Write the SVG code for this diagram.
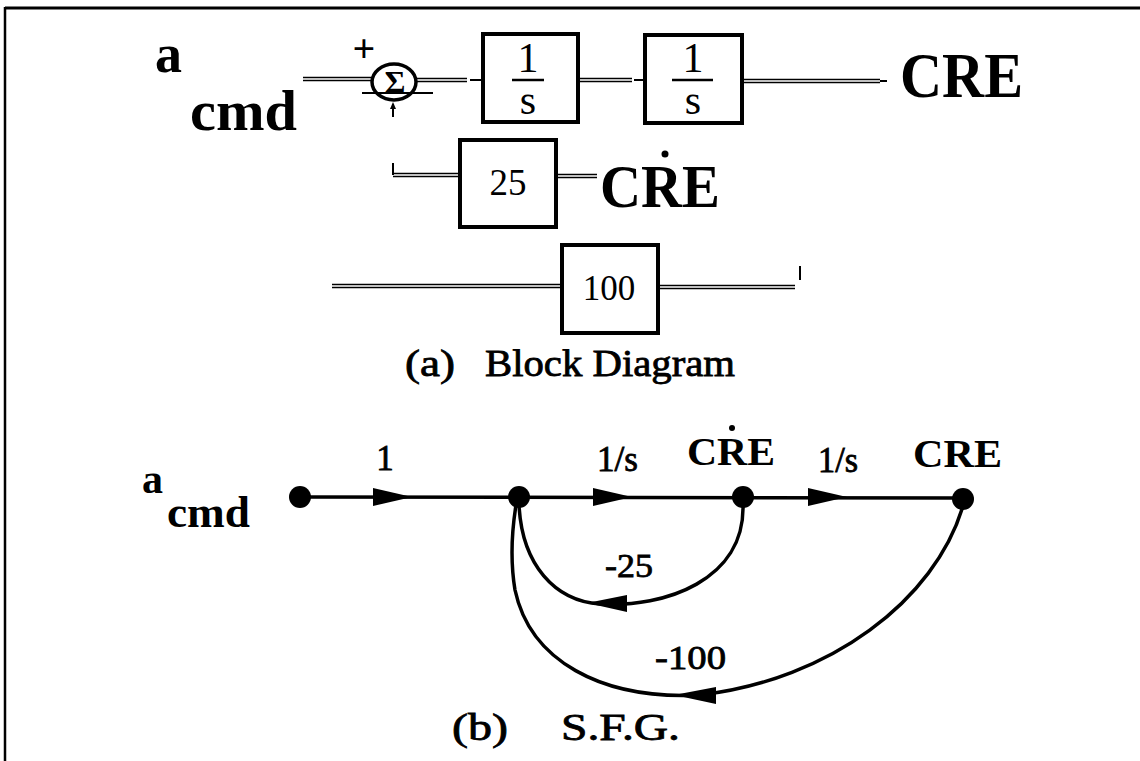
<svg xmlns="http://www.w3.org/2000/svg" width="1140" height="761" viewBox="0 0 1140 761">
<style>
text{font-family:"Liberation Serif","Times New Roman",serif;fill:#000}
.b{font-weight:bold}
.cap{stroke:#000;stroke-width:0.8}
.dbl{stroke:#000;stroke-width:4.5;fill:none}
.dbi{stroke:#fff;stroke-width:1.5;fill:none}
.thin{stroke:#000;stroke-width:2;fill:none}
.box{fill:#fff;stroke:#000;stroke-width:4}
.edge{stroke:#000;stroke-width:3.5;fill:none}
.node{fill:#000}
</style>
<rect width="1140" height="761" fill="#fff"/>
<g id="frame">
<line x1="5" y1="8" x2="1140" y2="8" stroke="#000" stroke-width="3"/>
<line x1="5" y1="7" x2="5" y2="761" stroke="#000" stroke-width="2.5"/>
</g>
<g id="connectors-block">
<path class="dbl" d="M303 79H372M416 80H467M580 80H632M744 81H880M393 175H460M556 176H597M332 286H562M658 287H795"/>
<path class="dbi" d="M303 79H372M416 80H467M580 80H632M744 81H880M393 175H460M556 176H597M332 286H562M658 287H795"/>
<path class="thin" d="M470 80H484M634 80H646M880 81H887M393 163V175M800 266V280"/>
<path class="thin" d="M393 104V117"/>
<path d="M393 102l-3 7h6z" fill="#000"/>
</g>
<g id="acmd-top"><text class="b" x="155" y="72" font-size="54">a</text><text class="b" x="190" y="130" font-size="58" textLength="107" lengthAdjust="spacingAndGlyphs">cmd</text></g>
<g id="sum">
<text class="b" x="364" y="62" font-size="40" text-anchor="middle">+</text>
<ellipse cx="394" cy="82" rx="22" ry="18" fill="#fff" stroke="#000" stroke-width="3.5"/>
<text class="b" x="395" y="93" font-size="32" text-anchor="middle">Σ</text>
<path class="thin" d="M362 93H433" stroke-width="2.5"/>
</g>
<g id="int1"><rect class="box" x="483" y="34" width="95" height="88"/><text x="528" y="72" font-size="42" text-anchor="middle">1</text><line x1="512" y1="80" x2="544" y2="80" stroke="#000" stroke-width="2.5"/><text x="528" y="114" font-size="42" text-anchor="middle">s</text></g>
<g id="int2"><rect class="box" x="645" y="35" width="97" height="88"/><text x="693" y="72" font-size="42" text-anchor="middle">1</text><line x1="672" y1="80" x2="713" y2="80" stroke="#000" stroke-width="2.5"/><text x="693" y="114" font-size="42" text-anchor="middle">s</text></g>
<g id="cre-top"><text class="b" x="900" y="97" font-size="64" textLength="123" lengthAdjust="spacingAndGlyphs">CRE</text></g>
<g id="gain25"><rect class="box" x="460" y="140" width="96" height="87"/><text x="508" y="195" font-size="37" text-anchor="middle">25</text></g>
<g id="credot-top"><text class="b" x="600" y="207" font-size="62" textLength="120" lengthAdjust="spacingAndGlyphs">CRE</text><circle cx="665" cy="154" r="3.5"/></g>
<g id="gain100"><rect class="box" x="562" y="245" width="96" height="88"/><text x="609" y="300" font-size="35" text-anchor="middle">100</text></g>
<g id="caption-a"><text class="cap" x="405" y="376" font-size="38" textLength="50" lengthAdjust="spacingAndGlyphs">(a)</text><text class="cap" x="485" y="376" font-size="38" textLength="250" lengthAdjust="spacingAndGlyphs">Block Diagram</text></g>
<g id="sfg-edges">
<line class="edge" x1="300" y1="497" x2="963" y2="498"/>
<path class="edge" d="M743 505C745 580 665 608 600 604C555 601 522 565 519 505"/>
<path class="edge" d="M963 506C935 600 830 680 700 695C600 700 530 660 515 590C510 560 512 530 516 505"/>
<path class="node" d="M373 488L412 497L373 506Z"/>
<path class="node" d="M593 488L632 497L593 506Z"/>
<path class="node" d="M808 488L847 497L808 506Z"/>
<path class="node" d="M587 603L627 595L627 612Z"/>
<path class="node" d="M674 695L716 687L716 704Z"/>
</g>
<g id="sfg-n1"><circle class="node" cx="300" cy="497" r="11"/><text class="b" x="142" y="493" font-size="42">a</text><text class="b" x="167" y="527" font-size="45" textLength="83" lengthAdjust="spacingAndGlyphs">cmd</text></g>
<g id="sfg-n2"><circle class="node" cx="519" cy="497" r="11"/></g>
<g id="sfg-n3"><circle class="node" cx="743" cy="497" r="11"/><text class="b" x="687" y="465" font-size="40" textLength="88" lengthAdjust="spacingAndGlyphs">CRE</text><circle cx="732" cy="428" r="3"/></g>
<g id="sfg-n4"><circle class="node" cx="963" cy="499" r="11"/><text class="b" x="913" y="467" font-size="40" textLength="89" lengthAdjust="spacingAndGlyphs">CRE</text></g>
<g id="sfg-labels">
<text class="cap" x="385" y="470" font-size="35" text-anchor="middle" stroke-width="0.5">1</text>
<text class="cap" x="597" y="471" font-size="35" textLength="41" lengthAdjust="spacingAndGlyphs" stroke-width="0.5">1/s</text>
<text class="cap" x="818" y="472" font-size="35" textLength="40" lengthAdjust="spacingAndGlyphs" stroke-width="0.5">1/s</text>
<text class="cap" x="605" y="577" font-size="34" textLength="48" lengthAdjust="spacingAndGlyphs" stroke-width="0.5">-25</text>
<text class="cap" x="655" y="669" font-size="34" textLength="71" lengthAdjust="spacingAndGlyphs" stroke-width="0.5">-100</text>
</g>
<g id="caption-b"><text class="cap" x="452" y="740" font-size="38" textLength="56" lengthAdjust="spacingAndGlyphs">(b)</text><text class="cap" x="561" y="740" font-size="38" textLength="119" lengthAdjust="spacingAndGlyphs">S.F.G.</text></g>
</svg>
